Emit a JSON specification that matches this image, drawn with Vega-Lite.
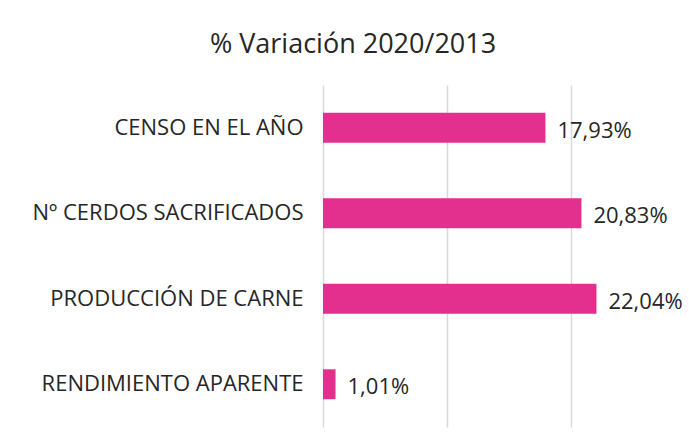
{
  "$schema": "https://vega.github.io/schema/vega-lite/v6.json",
  "width": 366,
  "height": 342,
  "autosize": {"type": "none"},
  "padding": {"left": 323, "top": 85, "right": 0, "bottom": 17},
  "background": "white",
  "title": {
    "text": "% Variación 2020/2013",
    "anchor": "middle",
    "frame": "group",
    "dx": -153,
    "offset": 5,
    "baseline": "alphabetic",
    "font": "Open Sans",
    "fontSize": 27,
    "fontWeight": "normal",
    "color": "#262626"
  },
  "config": {
    "view": {"stroke": null},
    "font": "Open Sans"
  },
  "data": {
    "values": [
      {"categoria": "CENSO EN EL AÑO", "variacion": 17.93, "etiqueta": "17,93%"},
      {"categoria": "Nº CERDOS SACRIFICADOS", "variacion": 20.83, "etiqueta": "20,83%"},
      {"categoria": "PRODUCCIÓN DE CARNE", "variacion": 22.04, "etiqueta": "22,04%"},
      {"categoria": "RENDIMIENTO APARENTE", "variacion": 1.01, "etiqueta": "1,01%"}
    ]
  },
  "encoding": {
    "y": {
      "field": "categoria",
      "type": "nominal",
      "sort": null,
      "scale": {"paddingInner": 0.65, "paddingOuter": 0.325},
      "axis": {
        "title": null,
        "ticks": false,
        "domain": false,
        "grid": false,
        "labelPadding": 20,
        "labelFontSize": 22,
        "labelColor": "#262626",
        "labelFont": "Open Sans",
        "labelLimit": 400
      }
    },
    "x": {
      "field": "variacion",
      "type": "quantitative",
      "scale": {"domain": [0, 29.5], "nice": false},
      "axis": {
        "title": null,
        "values": [0, 10, 20],
        "labels": false,
        "ticks": false,
        "domain": false,
        "grid": true,
        "gridColor": "#d9d9d9",
        "gridWidth": 1.5
      }
    }
  },
  "layer": [
    {"mark": {"type": "bar", "color": "#E3308F"}},
    {
      "mark": {
        "type": "text",
        "align": "left",
        "baseline": "middle",
        "dx": 12,
        "dy": 3,
        "fontSize": 22,
        "color": "#262626",
        "font": "Open Sans"
      },
      "encoding": {"text": {"field": "etiqueta"}}
    }
  ]
}
